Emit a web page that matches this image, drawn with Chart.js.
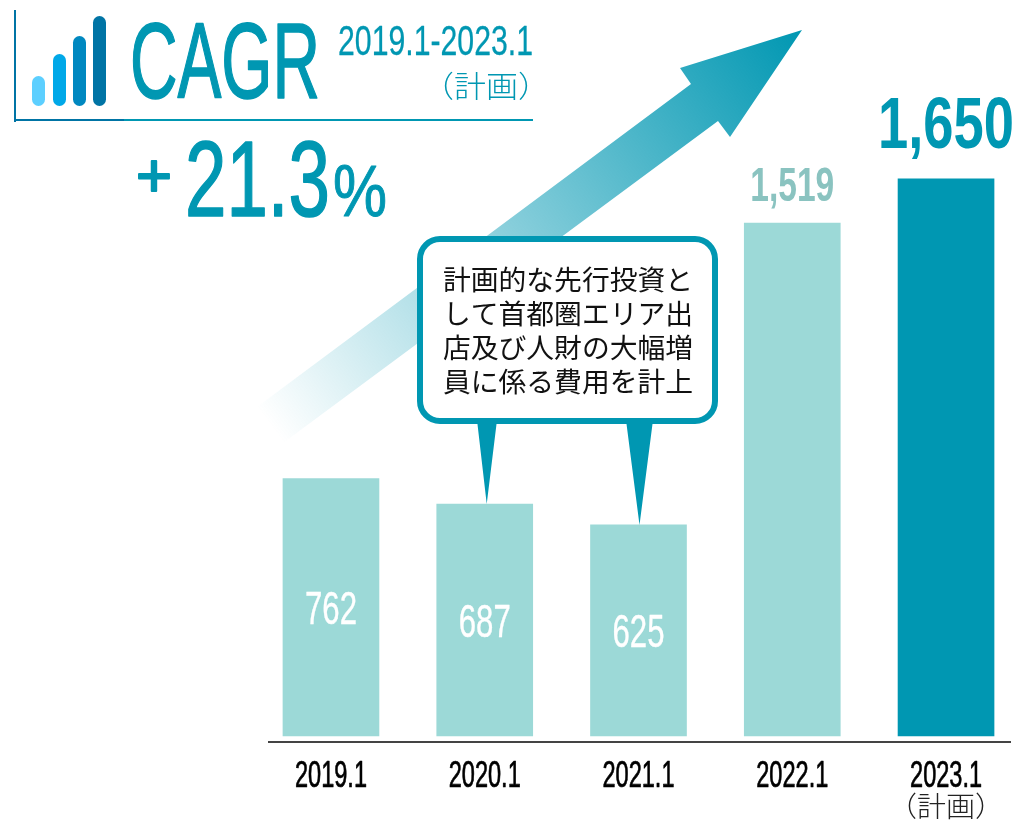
<!DOCTYPE html>
<html lang="ja">
<head>
<meta charset="utf-8">
<title>CAGR</title>
<script src="https://cdn.jsdelivr.net/npm/chart.js@4/dist/chart.umd.js"></script>
<style>
  html, body { margin: 0; background: #fff; overflow: hidden; }
  canvas { display: block; }
</style>
</head>
<body>
<canvas id="cnv" width="1016" height="823"></canvas>
<script>
const categories = ['2019.1', '2020.1', '2021.1', '2022.1', '2023.1'];
const sales = [762, 687, 625, 1519, 1650];
const valueLabels = ['762', '687', '625', '1,519', '1,650'];
const planNote = '（計画）';
const calloutLines = ['計画的な先行投資と', 'して首都圏エリア出', '店及び人財の大幅増', '員に係る費用を計上'];

const TEAL = '#0097b2';
const MINT = '#9cd9d7';
const NARROW = '"Liberation Sans Narrow", "Liberation Sans", sans-serif';
const CJK = '"Noto Sans CJK JP", sans-serif';

// draws text squeezed into a given width, the original type is very condensed
function fitText(ctx, text, left, baseline, font, width, color, weight) {
  ctx.save();
  ctx.font = font;
  ctx.fillStyle = color;
  ctx.textAlign = 'left';
  ctx.textBaseline = 'alphabetic';
  const sx = width / ctx.measureText(text).width;
  ctx.translate(left, baseline);
  ctx.scale(sx, 1);
  ctx.fillText(text, 0, 0);
  if (weight) {
    ctx.strokeStyle = color;
    ctx.lineWidth = weight;
    ctx.lineJoin = 'round';
    ctx.strokeText(text, 0, 0);
  }
  ctx.restore();
}

class NarrowLinear extends Chart.LinearScale {
  drawLabels(area) {
    const ctx = this.ctx;
    this.getLabelItems(area).forEach(item => {
      const x = item.options.translation[0];
      const text = [].concat(item.label);
      fitText(ctx, text[0], x - 36, 787, '36px ' + NARROW, 72, '#000', 0.7);
      if (text[1]) fitText(ctx, text[1], x - 58, 817, '300 28px ' + CJK, 116, '#222');
    });
  }
}
NarrowLinear.id = 'narrowLinear';
NarrowLinear.defaults = Chart.LinearScale.defaults;
Chart.register(NarrowLinear);

const arrowPlugin = {
  id: 'arrow',
  beforeDatasetsDraw(chart) {
    const ctx = chart.ctx;
    const g = ctx.createLinearGradient(270, 425, 802, 30);
    g.addColorStop(0, 'rgba(0,151,178,0)');
    g.addColorStop(1, 'rgba(0,151,178,1)');
    ctx.save();
    ctx.fillStyle = g;
    ctx.beginPath();
    ctx.moveTo(257, 407);
    ctx.lineTo(691, 84);
    ctx.lineTo(680, 68);
    ctx.lineTo(802, 30);
    ctx.lineTo(730, 137);
    ctx.lineTo(718, 121);
    ctx.lineTo(283, 443);
    ctx.closePath();
    ctx.fill();
    ctx.restore();
  }
};

const annotationPlugin = {
  id: 'annotations',
  afterDatasetsDraw(chart) {
    const ctx = chart.ctx;
    const bars = chart.getDatasetMeta(0).data;

    // value labels
    bars.forEach((bar, i) => {
      const text = valueLabels[i];
      if (i < 3) {
        const mid = (bar.y + bar.base) / 2;
        fitText(ctx, text, bar.x - 26, mid + 17, '46px ' + NARROW, 52, '#fff', 0.4);
      } else if (i === 3) {
        fitText(ctx, text, bar.x - 42, bar.y - 22, 'bold 48px ' + NARROW, 84, '#8ac3c0');
      } else {
        fitText(ctx, text, bar.x - 68, bar.y - 31, 'bold 73px ' + NARROW, 136, TEAL);
      }
    });

    // callout pointers end on the tops of the 2020 and 2021 bars
    ctx.save();
    ctx.fillStyle = TEAL;
    ctx.beginPath();
    ctx.moveTo(477, 420);
    ctx.lineTo(497, 420);
    ctx.lineTo(bars[1].x + 2, bars[1].y);
    ctx.closePath();
    ctx.moveTo(626, 420);
    ctx.lineTo(653, 420);
    ctx.lineTo(bars[2].x + 1, bars[2].y);
    ctx.closePath();
    ctx.fill();

    // callout box
    ctx.beginPath();
    ctx.roundRect(420, 239, 295, 182, 20);
    ctx.fillStyle = '#fff';
    ctx.fill();
    ctx.lineWidth = 6;
    ctx.strokeStyle = TEAL;
    ctx.stroke();
    ctx.fillStyle = '#111';
    ctx.font = '27.8px ' + CJK;
    ctx.textAlign = 'center';
    ctx.textBaseline = 'middle';
    calloutLines.forEach((line, i) => ctx.fillText(line, 568, 279 + i * 34));
    ctx.restore();

    // header block
    ctx.save();
    ctx.fillStyle = '#0074a5';
    ctx.fillRect(14, 10, 2, 112);
    ctx.fillRect(14, 119, 110, 2);
    ctx.fillStyle = TEAL;
    ctx.fillRect(124, 119, 409, 2);
    const icon = [[32, 76, '#5ccfff'], [53, 54, '#00a8e8'], [73, 36, '#0088c0'], [93, 16, '#0074a5']];
    icon.forEach(([x, top, color]) => {
      ctx.fillStyle = color;
      ctx.beginPath();
      ctx.roundRect(x, top, 13, 106 - top, 6.5);
      ctx.fill();
    });
    ctx.restore();
    fitText(ctx, 'CAGR', 130, 98, '108px ' + NARROW, 190, TEAL, 1.6);
    fitText(ctx, '2019.1-2023.1', 338, 55, '43px ' + NARROW, 195, TEAL, 0.3);
    fitText(ctx, planNote, 422, 97, '300 30px ' + CJK, 128, TEAL);
    fitText(ctx, '+', 136, 196, '62px ' + NARROW, 36, TEAL, 2);
    fitText(ctx, '21.3', 185, 216, '108px ' + NARROW, 145, TEAL, 1.6);
    fitText(ctx, '%', 333, 216, '72px ' + NARROW, 54, TEAL, 1);
  }
};

new Chart(document.getElementById('cnv'), {
  type: 'bar',
  data: {
    datasets: [{
      data: sales.map((v, i) => ({ x: i, y: v })),
      backgroundColor: sales.map((v, i) => (i === sales.length - 1 ? TEAL : MINT)),
      barThickness: 96,
      borderWidth: 0
    }]
  },
  options: {
    responsive: false,
    animation: false,
    layout: { padding: { left: 269, right: 6, top: 0, bottom: 0 } },
    plugins: { legend: { display: false }, tooltip: { enabled: false } },
    scales: {
      x: {
        type: 'narrowLinear',
        offset: false,
        min: -0.403,
        max: 4.416,
        grid: { display: false, drawTicks: false, offset: false },
        border: { color: '#444', width: 2 },
        afterBuildTicks: scale => { scale.ticks = categories.map((c, i) => ({ value: i })); },
        afterFit: scale => { scale.height = 81; },
        ticks: {
          autoSkip: false,
          maxRotation: 0,
          callback: value => (value === categories.length - 1 ? [categories[value], planNote] : categories[value])
        }
      },
      y: { display: false, min: -18, max: 2180 }
    }
  },
  plugins: [arrowPlugin, annotationPlugin]
});
</script>
</body>
</html>
